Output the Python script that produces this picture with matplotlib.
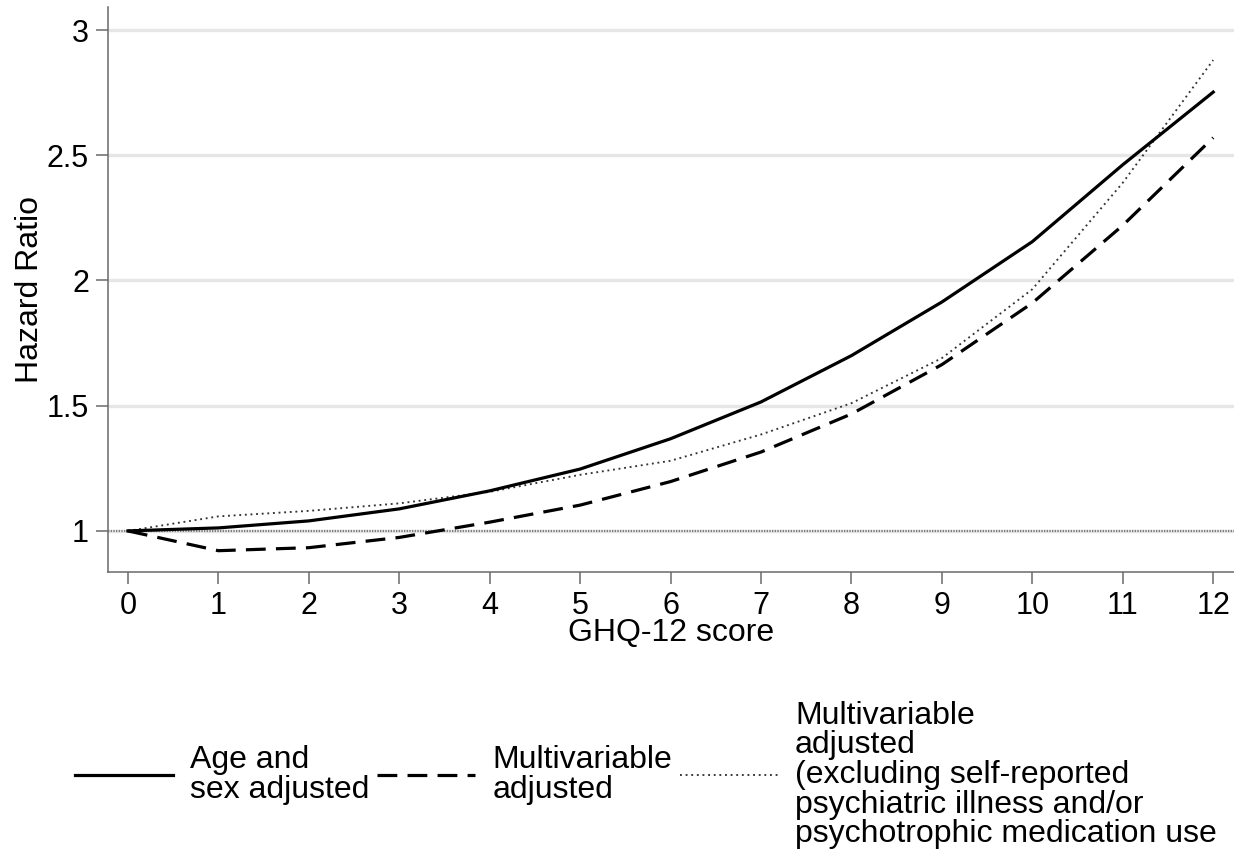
import matplotlib
matplotlib.use("Agg")
from matplotlib import pyplot as plt

plt.rcParams['font.family'] = ['Liberation Sans', 'DejaVu Sans']

# GHQ-12 score vs hazard ratio
ghq_score = list(range(0, 13))
age_sex_adjusted = [1.0, 1.012, 1.04, 1.088, 1.16, 1.247, 1.368, 1.515, 1.70, 1.914, 2.155, 2.462, 2.752]
multivariable = [1.0, 0.921, 0.933, 0.974, 1.035, 1.103, 1.197, 1.315, 1.467, 1.664, 1.91, 2.22, 2.57]
multivariable_excl = [1.0, 1.058, 1.08, 1.11, 1.156, 1.224, 1.28, 1.385, 1.51, 1.69, 1.965, 2.39, 2.88]

y_ticks = [1, 1.5, 2, 2.5, 3]
y_tick_labels = ["1", "1.5", "2", "2.5", "3"]

labels = [
    "Age and\nsex adjusted",
    "Multivariable\nadjusted",
    "Multivariable\nadjusted\n(excluding self-reported\npsychiatric illness and/or\npsychotrophic medication use",
]

fig = plt.figure(figsize=(12.34, 8.6), dpi=100)
ax = fig.add_axes([0.0875, 0.3349, 0.9125, 0.657])

ax.axhline(1, color="#808080", linestyle=(0, (0.6, 0.6)), linewidth=1.6, zorder=2)

l1, = ax.plot(ghq_score, age_sex_adjusted, color="black", linewidth=2.3, zorder=4)
l2, = ax.plot(ghq_score, multivariable, color="black", linewidth=2.3,
              linestyle=(0, (6.2, 3.2)), zorder=4)
l3, = ax.plot(ghq_score, multivariable_excl, color="#333333", linewidth=1.35,
              linestyle=(0, (1, 2.0)), zorder=3)

ax.set_xlim(-0.221, 12.23)
ax.set_ylim(0.836, 3.092)
ax.set_xticks(ghq_score)
ax.set_yticks(y_ticks)
ax.set_yticklabels(y_tick_labels)

ax.grid(axis="y", color="#e6e6e6", linewidth=2.4, zorder=0)
ax.set_axisbelow(True)

for side in ["top", "right"]:
    ax.spines[side].set_visible(False)
for side in ["left", "bottom"]:
    ax.spines[side].set_color("#6a6a6a")
    ax.spines[side].set_linewidth(1.1)

ax.tick_params(axis="both", direction="out", length=8.6, width=1.1,
               color="#6a6a6a", labelsize=22, pad=5)

ax.set_xlabel("GHQ-12 score", fontsize=23, labelpad=-2)
ax.set_ylabel("Hazard Ratio", fontsize=23, labelpad=1)

leg = ax.legend([l1, l2, l3], labels, loc="center left",
                bbox_to_anchor=(75 / 1234, 1 - 775 / 860),
                bbox_transform=fig.transFigure, ncol=3, frameon=False,
                fontsize=23, handlelength=3.07, handletextpad=0.53,
                columnspacing=0.25, borderpad=0, borderaxespad=0)
for t in leg.get_texts():
    t.set_linespacing(0.98)

fig.savefig("out.png", dpi=100)
